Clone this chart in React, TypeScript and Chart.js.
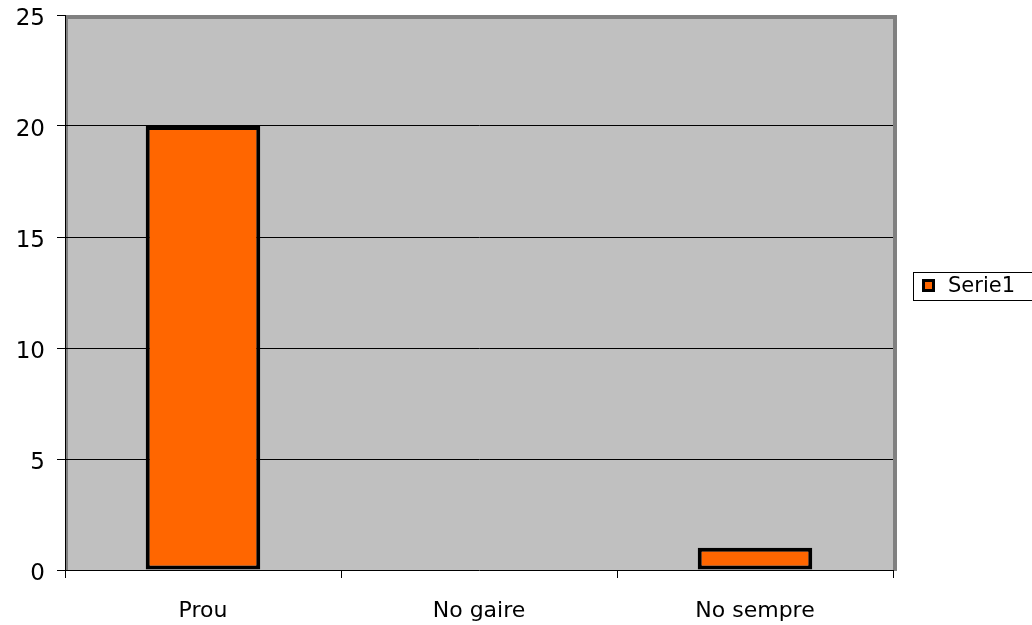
import React, { useEffect, useRef } from "react";
import { Chart, registerables } from "chart.js";

Chart.register(...registerables);

const categories = ["Prou", "No gaire", "No sempre"];
const serie1 = [20, 0, 1];
const seriesName = "Serie1";
const yTicks = [0, 5, 10, 15, 20, 25];

const FONT = "'DejaVu Sans', Verdana, sans-serif";

const plotBg = {
  id: "plotBg",
  beforeDraw(chart: any) {
    const { ctx, chartArea } = chart;
    const { left, top, right, bottom } = chartArea;
    ctx.save();
    ctx.fillStyle = "#C0C0C0";
    ctx.fillRect(left, top, right - left, bottom - top);
    ctx.fillStyle = "#808080";
    ctx.fillRect(left, top, right - left + 4, 4);
    ctx.fillRect(right, top, 4, bottom - top + 1);
    ctx.fillRect(left, top, 3, bottom - top);
    ctx.restore();
  },
};

const legendBox = {
  id: "legendBox",
  afterDraw(chart: any) {
    const { ctx } = chart;
    ctx.save();
    ctx.strokeStyle = "#000";
    ctx.lineWidth = 1;
    ctx.strokeRect(913.5, 272.5, 130, 28);
    ctx.fillStyle = "#000";
    ctx.fillRect(922, 279, 13, 13);
    ctx.fillStyle = "#FF6600";
    ctx.fillRect(925, 282, 7, 7);
    ctx.fillStyle = "#000";
    ctx.font = `21px ${FONT}`;
    ctx.textBaseline = "middle";
    ctx.textAlign = "left";
    ctx.fillText(seriesName, 948, 287);
    ctx.restore();
  },
};

export default function App() {
  const ref = useRef<HTMLCanvasElement>(null);
  useEffect(() => {
    document.body.style.margin = "0";
    const chart = new Chart(ref.current!, {
      type: "bar",
      data: {
        labels: categories,
        datasets: [
          {
            label: seriesName,
            data: serie1,
            backgroundColor: "#FF6600",
            borderColor: "#000000",
            borderWidth: 4,
            borderSkipped: false,
            categoryPercentage: 1,
            barPercentage: 0.415,
          },
        ],
      },
      options: {
        animation: false,
        responsive: false,
        layout: { padding: { left: 0, top: 15, right: 139, bottom: 0 } },
        plugins: { legend: { display: false }, tooltip: { enabled: false } },
        scales: {
          x: {
            grid: {
              offset: true,
              drawOnChartArea: false,
              drawTicks: true,
              tickLength: 8,
              tickColor: "#000",
            },
            border: { color: "#000", width: 1 },
            ticks: { color: "#000", font: { family: FONT, size: 22 }, padding: 20 },
            afterFit(scale: any) {
              scale.height = 55;
              scale.paddingLeft = 0;
              scale.paddingRight = 0;
            },
          },
          y: {
            min: 0,
            max: 25,
            afterBuildTicks(scale: any) {
              scale.ticks = yTicks.map((v) => ({ value: v }));
            },
            grid: {
              color: (c: any) =>
                c.tick && (c.tick.value === 0 || c.tick.value === 25) ? "rgba(0,0,0,0)" : "#000",
              tickColor: "#000",
              tickLength: 8,
            },
            border: { color: "#000", width: 1 },
            ticks: { color: "#000", font: { family: FONT, size: 23 }, padding: 12, labelOffset: 4 },
            afterFit(scale: any) {
              scale.width = 65;
              scale.paddingTop = 0;
              scale.paddingBottom = 0;
            },
          },
        },
      },
      plugins: [plotBg, legendBox],
    });
    return () => chart.destroy();
  }, []);
  return (
    <div style={{ width: 1032, height: 625 }}>
      <canvas ref={ref} width={1032} height={625} />
    </div>
  );
}
